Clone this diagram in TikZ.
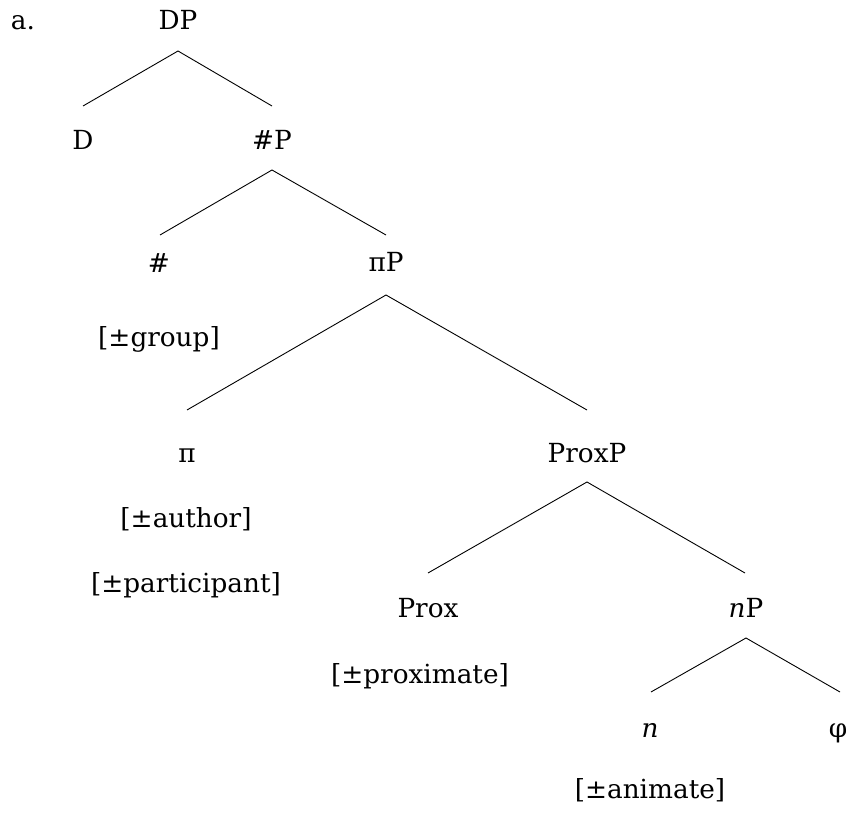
\documentclass[tikz,border=0pt]{standalone}
\usepackage{fontspec}
\setmainfont{DejaVu Serif}
\usetikzlibrary{calc}
\begin{document}
\begin{tikzpicture}[x=1pt,y=-1pt,
  lab/.style={anchor=base, inner sep=0pt, font=\fontsize{26.3}{31}\selectfont},
  edge/.style={line width=0.9pt}]
\useasboundingbox[fill=white] (0,0) rectangle (855,813);
% nodes
\node[lab] (ex) at (23,30) {a.};
\node[lab] (DP) at (178,30) {DP};
\node[lab] (D) at (83,150) {D};
\node[lab] (NumP) at (272,150) {\#P};
\node[lab] (Num) at (159,273) {\#};
\node[lab] (piP) at (386,272) {πP};
\node[lab] (group) at (159,347) {[±group]};
\node[lab] (pi) at (187,462) {π};
\node[lab] (ProxP) at (587,462) {ProxP};
\node[lab] (author) at (186,527) {[±author]};
\node[lab] (part) at (186,592) {[±participant]};
\node[lab] (Prox) at (428,617) {Prox};
\node[lab] (nP) at (746,617) {\textit{n}P};
\node[lab] (prox) at (420,683) {[±proximate]};
\node[lab] (n) at (650,737) {\textit{n}};
\node[lab] (phi) at (838,737) {φ};
\node[lab] (anim) at (650,798) {[±animate]};
% edges
\draw[edge] ($(D.base)+(0,-44)$) -- ($(DP.base)+(0,21)$) -- ($(NumP.base)+(0,-44)$);
\draw[edge] ($(Num.base)+(1,-38)$) -- ($(NumP.base)+(0,20)$) -- ($(piP.base)+(0,-37)$);
\draw[edge] ($(pi.base)+(0,-52)$) -- ($(piP.base)+(0,23)$) -- ($(ProxP.base)+(0,-52)$);
\draw[edge] ($(Prox.base)+(0,-44)$) -- ($(ProxP.base)+(0,20)$) -- ($(nP.base)+(-1,-44)$);
\draw[edge] ($(n.base)+(1,-45)$) -- ($(nP.base)+(0,21)$) -- ($(phi.base)+(2,-45)$);
\end{tikzpicture}
\end{document}
